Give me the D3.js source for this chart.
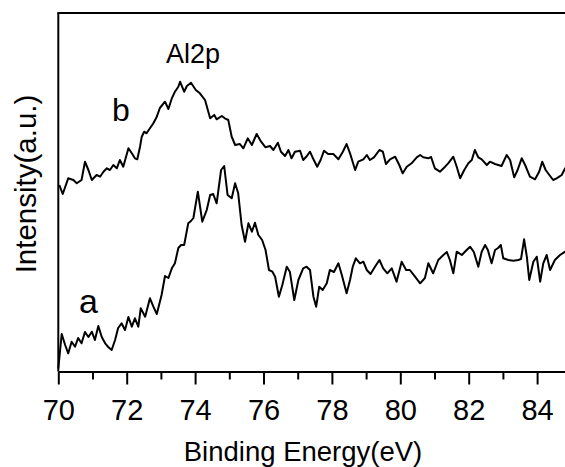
<!DOCTYPE html>
<html>
<head>
<meta charset="utf-8">
<script src="https://cdn.jsdelivr.net/npm/d3@7"></script>
<style>
  html, body { margin: 0; padding: 0; background: #fff; }
  svg { display: block; font-family: "Liberation Sans", Arial, Helvetica, sans-serif; }
</style>
</head>
<body>
<svg id="chart" width="565" height="467"></svg>
<script>
// Al 2p XPS spectra, binding energy (eV) vs intensity (a.u.)
const majorTicks = [70, 72, 74, 76, 78, 80, 82, 84];
const minorTicks = [71, 73, 75, 77, 79, 81, 83, 85];

// spectrum b (upper trace)
const energyB = [70.03,70.13,70.29,70.44,70.54,70.68,70.78,70.88,70.98,71.12,71.22,71.32,71.42,71.51,71.61,71.71,71.80,71.90,72.05,72.15,72.24,72.31,72.39,72.44,72.51,72.58,72.68,72.78,72.88,72.97,73.12,73.22,73.32,73.41,73.51,73.56,73.68,73.76,73.88,74.02,74.14,74.29,74.44,74.56,74.63,74.78,74.87,74.97,75.07,75.17,75.31,75.41,75.54,75.66,75.80,75.93,76.06,76.19,76.29,76.42,76.51,76.63,76.73,76.82,76.92,77.07,77.16,77.27,77.36,77.46,77.57,77.67,77.77,77.89,78.04,78.19,78.32,78.43,78.53,78.68,78.77,78.92,79.02,79.11,79.23,79.39,79.49,79.58,79.70,79.85,79.97,80.07,80.19,80.33,80.48,80.58,80.67,80.82,80.90,81.01,81.16,81.31,81.40,81.55,81.65,81.75,81.87,81.99,82.09,82.18,82.28,82.38,82.53,82.62,82.77,82.96,83.11,83.21,83.33,83.43,83.55,83.65,83.79,83.94,84.06,84.15,84.25,84.38,84.47,84.57,84.72,84.82,85.00];
const intensityB = [186.5,177.5,193.2,191.5,188.2,191.5,209.8,201.5,191.5,196.5,194.8,199.8,203.2,201.5,206.5,203.2,211.5,204.8,223.2,218.2,213.2,212.2,224.8,234.8,239.8,238.2,243.2,248.2,254.8,263.5,269.8,262.5,273.2,279.8,284.8,289.8,279.8,285.5,288.8,281.5,278.2,271.5,253.2,256.5,252.2,255.5,253.2,251.5,234.8,226.5,227.5,223.2,233.2,226.5,237.5,229.8,224.2,225.5,221.5,228.8,219.8,215.5,221.5,213.2,219.8,220.8,211.5,215.5,219.8,212.2,204.8,211.5,220.8,217.5,217.5,212.2,219.8,227.5,218.2,201.5,209.8,212.2,216.5,211.5,214.2,221.5,219.8,207.5,212.2,214.8,206.5,198.2,204.8,208.2,214.2,216.5,214.2,213.2,214.5,203.2,199.8,204.8,208.2,214.8,204.8,193.2,201.5,208.2,211.5,221.5,214.2,212.2,206.5,209.8,207.5,205.5,216.5,211.5,194.2,201.5,213.2,206.5,194.8,192.2,199.8,209.8,201.5,195.5,191.5,193.2,196.5,203.2,198.0];

// spectrum a (lower trace)
const energyA = [70.00,70.10,70.20,70.29,70.39,70.49,70.58,70.68,70.78,70.88,70.98,71.07,71.17,71.27,71.37,71.46,71.56,71.66,71.75,71.85,71.95,72.05,72.15,72.24,72.34,72.41,72.54,72.68,72.78,72.88,73.02,73.12,73.22,73.32,73.41,73.51,73.59,73.68,73.80,73.88,73.95,74.08,74.21,74.34,74.44,74.53,74.63,74.76,74.85,74.95,75.07,75.17,75.26,75.36,75.46,75.56,75.66,75.75,75.85,75.96,76.06,76.16,76.26,76.34,76.45,76.55,76.68,76.77,76.90,77.02,77.16,77.26,77.36,77.46,77.54,77.63,77.73,77.85,77.94,78.06,78.19,78.29,78.43,78.53,78.61,78.70,78.82,78.92,79.02,79.13,79.26,79.39,79.50,79.62,79.75,79.89,80.04,80.17,80.28,80.43,80.58,80.72,80.82,80.96,81.11,81.26,81.36,81.45,81.55,81.65,81.80,81.94,82.04,82.15,82.28,82.38,82.48,82.56,82.67,82.77,82.86,82.94,83.01,83.16,83.30,83.45,83.53,83.62,83.70,83.77,83.89,83.99,84.09,84.18,84.28,84.38,84.52,84.67,84.82,85.00];
const intensityA = [3.0,37.5,26.5,18.2,29.8,24.8,33.5,28.2,39.5,34.5,39.8,31.5,45.5,34.5,28.2,24.5,21.5,31.5,43.5,48.2,41.5,54.5,44.8,53.2,44.8,63.2,54.8,73.2,64.8,57.5,76.5,95.5,93.5,103.2,108.2,123.5,126.5,126.5,148.2,150.5,153.5,179.8,149.8,161.5,176.5,177.5,168.2,201.5,205.5,176.5,173.2,188.2,178.2,146.5,129.8,148.2,139.8,148.8,136.5,131.5,121.5,101.5,99.8,94.8,74.8,86.5,104.8,99.8,71.5,91.5,103.2,104.8,101.5,74.8,64.8,84.8,81.5,88.2,101.5,99.5,108.2,96.5,78.2,91.5,104.8,113.2,108.2,109.8,101.5,97.5,104.8,111.5,103.2,98.2,103.2,89.8,109.8,101.5,101.5,94.8,88.2,93.5,108.2,98.2,111.5,116.5,119.5,111.5,98.2,119.8,116.5,121.5,124.8,119.5,104.8,119.8,126.5,121.5,108.2,121.5,123.5,126.5,113.2,111.5,110.8,111.5,112.5,132.2,114.8,91.5,109.8,114.8,89.8,108.2,116.5,101.5,111.5,116.5,119.8,115.0];

const svg = d3.select("#chart");
const plotLeft = 58.3, plotTop = 13, plotBottom = 371.5, plotRight = 571.3;

const x = d3.scaleLinear().domain([70, 85]).range([plotLeft, plotRight]);
const y = d3.scaleLinear().domain([0, 358.5]).range([plotBottom, plotTop]);

const line = d3.line().x(d => x(d[0])).y(d => y(d[1]));

const plot = svg.append("g");
[[energyA, intensityA], [energyB, intensityB]].forEach(([e, v]) => {
  plot.append("path")
    .datum(e.map((d, i) => [d, v[i]]))
    .attr("fill", "none")
    .attr("stroke", "#000")
    .attr("stroke-width", 2)
    .attr("stroke-linejoin", "round")
    .attr("d", line);
});

// frame: left and top edges
svg.append("line").attr("x1", plotLeft).attr("x2", plotLeft).attr("y1", plotTop).attr("y2", plotBottom)
  .attr("stroke", "#000").attr("stroke-width", 2);
svg.append("line").attr("x1", plotLeft - 1).attr("x2", 565).attr("y1", plotTop).attr("y2", plotTop)
  .attr("stroke", "#000").attr("stroke-width", 2);

// bottom axis with major and minor ticks
const gMinor = svg.append("g").attr("transform", `translate(0,${plotBottom})`)
  .call(d3.axisBottom(x).tickValues(minorTicks).tickSize(8).tickFormat(""));
const gMajor = svg.append("g").attr("transform", `translate(0,${plotBottom})`)
  .call(d3.axisBottom(x).tickValues(majorTicks).tickSize(13).tickSizeOuter(0).tickPadding(15).tickFormat(d3.format("d")));
[gMinor, gMajor].forEach(g => {
  g.selectAll("path.domain").attr("stroke-width", 2);
  g.selectAll(".tick line").attr("stroke-width", 2);
});
gMinor.select("path.domain").remove();
gMajor.selectAll("text").attr("font-size", 29).attr("fill", "#000")
  .attr("font-family", "'Liberation Sans', Arial, sans-serif");

// axis titles
svg.append("text").attr("x", 303).attr("y", 461).attr("text-anchor", "middle")
  .attr("font-size", 27.5).text("Binding Energy(eV)");
svg.append("text").attr("transform", "translate(36,184) rotate(-90)").attr("text-anchor", "middle")
  .attr("font-size", 29.5).text("Intensity(a.u.)");

// annotations
svg.append("text").attr("x", 193).attr("y", 63).attr("text-anchor", "middle")
  .attr("font-size", 27).text("Al2p");
svg.append("text").attr("x", 112).attr("y", 121).attr("font-size", 32).text("b");
svg.append("text").attr("x", 79).attr("y", 313).attr("font-size", 34).text("a");
</script>
</body>
</html>
